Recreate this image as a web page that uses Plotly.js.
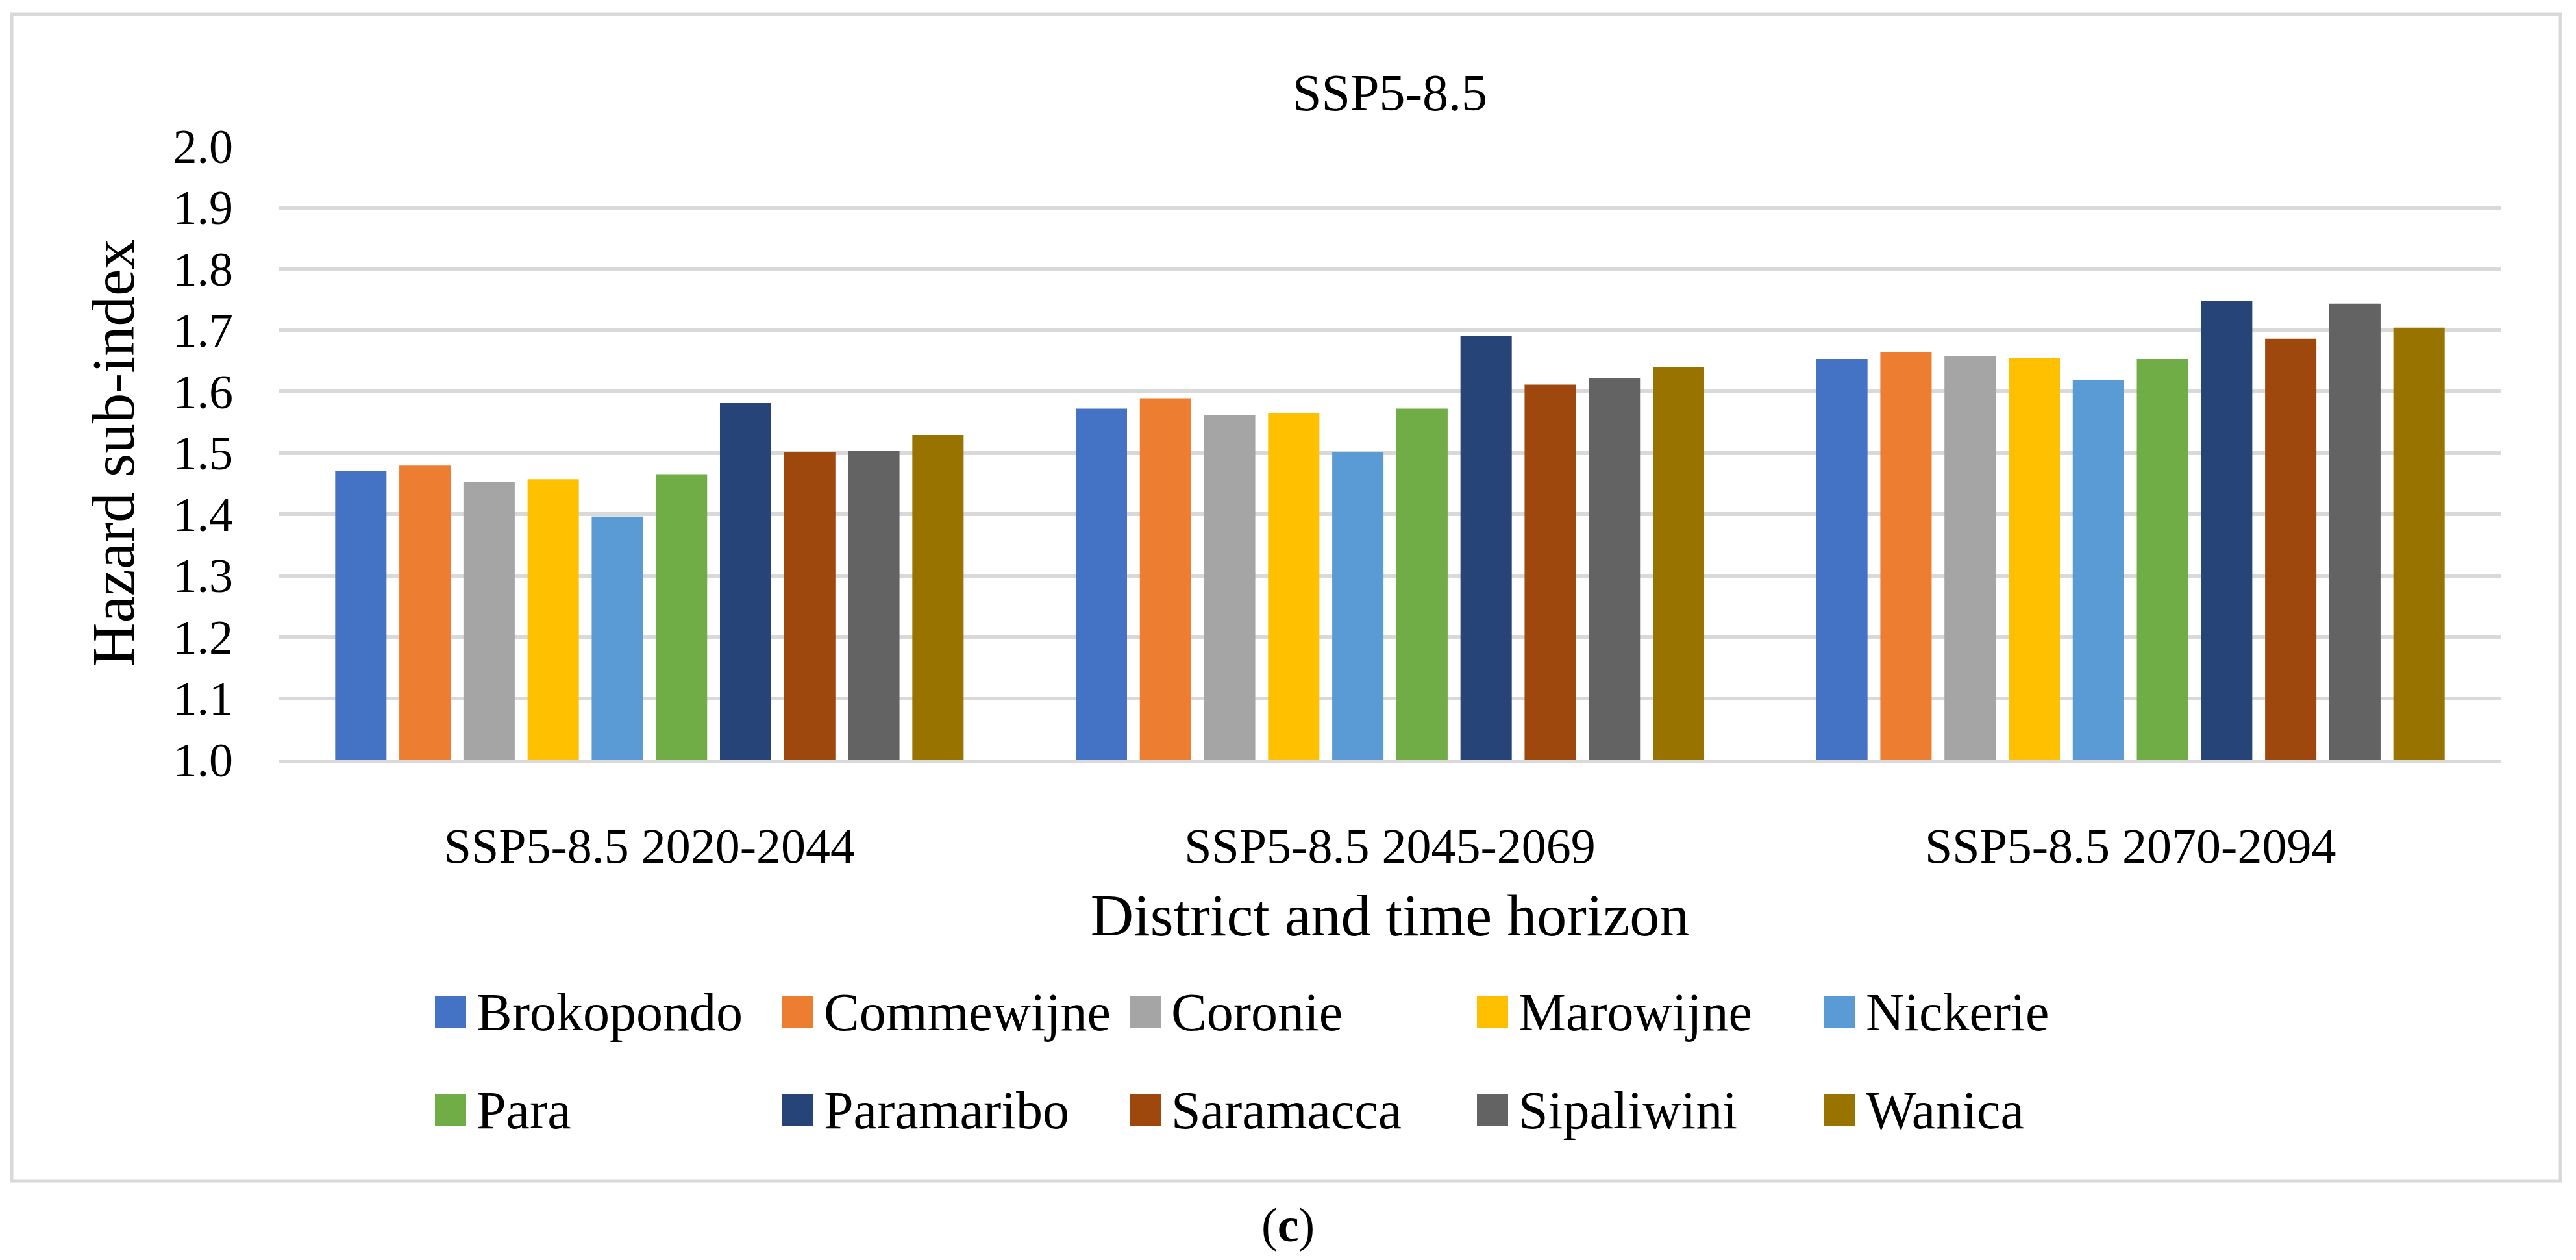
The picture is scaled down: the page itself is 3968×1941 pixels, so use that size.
<!DOCTYPE html>
<html><head><meta charset="utf-8">
<script src="https://cdn.plot.ly/plotly-3.0.1.min.js"></script>
<style>html,body{margin:0;padding:0;background:#fff}#chart{width:3968px;height:1941px}</style>
</head><body><div id="chart"></div>
<script>
// ---- data ----
const categories = ['SSP5-8.5 2020-2044', 'SSP5-8.5 2045-2069', 'SSP5-8.5 2070-2094'];
const districts = ['Brokopondo', 'Commewijne', 'Coronie', 'Marowijne', 'Nickerie',
                   'Para', 'Paramaribo', 'Saramacca', 'Sipaliwini', 'Wanica'];
const colors = ['#4472C4', '#ED7D31', '#A5A5A5', '#FFC000', '#5B9BD5',
                '#70AD47', '#264478', '#9E480E', '#636363', '#997300'];
const brokopondo = [1.471, 1.572, 1.653];
const commewijne = [1.479, 1.589, 1.664];
const coronie    = [1.452, 1.562, 1.658];
const marowijne  = [1.457, 1.565, 1.655];
const nickerie   = [1.396, 1.501, 1.618];
const para       = [1.465, 1.572, 1.653];
const paramaribo = [1.581, 1.690, 1.748];
const saramacca  = [1.501, 1.611, 1.686];
const sipaliwini = [1.503, 1.622, 1.743];
const wanica     = [1.529, 1.640, 1.704];
const seriesValues = [brokopondo, commewijne, coronie, marowijne, nickerie,
                      para, paramaribo, saramacca, sipaliwini, wanica];
const chartTitle = 'SSP5-8.5';
const xTitle = 'District and time horizon';
const yTitle = 'Hazard sub-index';
const panelLabel = '(<b>c</b>)';

// ---- layout geometry (pixels) ----
const W = 3968, H = 1941;
const L = 430, R = 3852, T = 225, B = 1170;
const px = x => (x - L) / (R - L);
const py = y => (B - y) / (B - T);
const FONT = 'Liberation Serif';

const traces = districts.map((name, i) => ({
  type: 'bar', name: name, x: categories, y: seriesValues[i],
  marker: {color: colors[i], line: {width: 0}},
  showlegend: false, hoverinfo: 'x+y+name'
}));

const shapes = [{
  type: 'rect', xref: 'paper', yref: 'paper',
  x0: px(18), x1: px(3944), y0: py(1819), y1: py(22),
  line: {color: '#d9d9d9', width: 5}, fillcolor: 'rgba(0,0,0,0)', layer: 'below'
}];
const annotations = [];
const sw = 48;
districts.forEach((name, i) => {
  const row = Math.floor(i / 5), col = i % 5;
  const left = 670 + col * 535, top = 1535 + row * 151;
  shapes.push({
    type: 'rect', xref: 'paper', yref: 'paper',
    x0: px(left), x1: px(left + sw), y0: py(top + sw), y1: py(top),
    fillcolor: colors[i], line: {width: 0}
  });
  annotations.push({
    xref: 'paper', yref: 'paper', x: px(left + sw + 14), y: py(top + sw / 2),
    xanchor: 'left', yanchor: 'middle', showarrow: false, text: name,
    font: {family: FONT, size: 82, color: '#000'}
  });
});
annotations.push({
  xref: 'paper', yref: 'paper', x: px(1984), y: py(1887),
  xanchor: 'center', yanchor: 'middle', showarrow: false, text: panelLabel,
  font: {family: FONT, size: 74, color: '#000'}
});

const layout = {
  width: W, height: H,
  margin: {l: L, r: W - R, t: T, b: H - B, pad: 0},
  paper_bgcolor: '#fff', plot_bgcolor: '#fff',
  font: {family: FONT, color: '#000'},
  title: {text: chartTitle, font: {family: FONT, size: 80, color: '#000'},
          x: 0.5, xref: 'paper', y: 1 - 142 / H, yref: 'container', yanchor: 'middle'},
  barmode: 'group', bargap: 0.134, bargroupgap: 0.2,
  xaxis: {
    type: 'category', showgrid: false, ticks: '', showline: true,
    linecolor: '#d9d9d9', linewidth: 6,
    tickfont: {family: FONT, size: 76, color: '#000'}, ticklabelstandoff: 62,
    title: {text: xTitle, font: {family: FONT, size: 92, color: '#000'}, standoff: 34},
    automargin: false, fixedrange: true
  },
  yaxis: {
    range: [1.0, 2.0], dtick: 0.1, tick0: 1.0, tickformat: '.1f',
    showgrid: true, gridcolor: '#d9d9d9', gridwidth: 6,
    zeroline: false, showline: false, ticks: '',
    tickfont: {family: FONT, size: 74, color: '#000'}, ticklabelstandoff: 70,
    title: {text: yTitle, font: {family: FONT, size: 93, color: '#000'}, standoff: 28},
    automargin: false, fixedrange: true
  },
  shapes: shapes, annotations: annotations, showlegend: false
};

Plotly.newPlot('chart', traces, layout, {displayModeBar: false, staticPlot: true});
</script>
</body></html>
